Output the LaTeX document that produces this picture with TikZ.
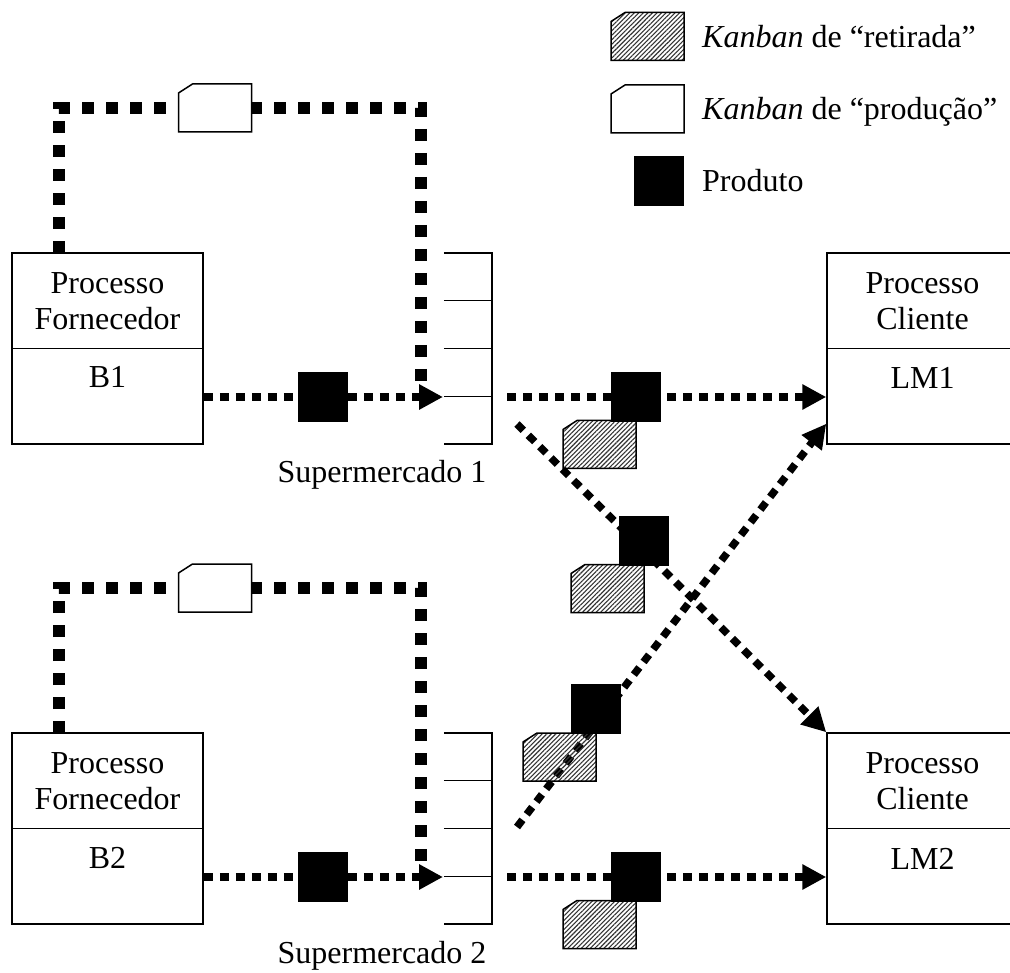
\documentclass[tikz,border=0pt]{standalone}
\usepackage{fontspec}
\setmainfont{Liberation Serif}
\usetikzlibrary{arrows.meta,patterns.meta,calc}

\tikzset{
  rule/.style={line width=1.5pt},
  frame/.style={draw, line width=1.5pt, minimum width=191pt, minimum height=191pt, inner sep=0pt},
  shelf/.style={minimum width=48pt, minimum height=191pt, inner sep=0pt},
  product/.style={draw=black, fill=black, line width=0.5pt, minimum size=49pt, inner sep=0pt},
  flow/.style={line width=7.5pt, dash pattern=on 9pt off 7pt, -{Triangle[length=24pt,width=24pt]}},
  signal/.style={line width=11.5pt, dash pattern=on 12pt off 12pt},
  prodcard/.style={draw, line width=1.5pt, fill=white},
  pullcard/.style={draw, line width=1.5pt, preaction={fill=white},
    pattern={Lines[angle=45,distance=3.2pt,line width=1.1pt]}, pattern color=black!80},
  pics/kanban/.style={code={
    \path[pic actions] (-36.5,-15) -- (-22.5,-24) -- (36.5,-24) -- (36.5,24) -- (-36.5,24) -- cycle;}},
  lbl/.style={inner sep=0pt, align=center},
}

\begin{document}
\begin{tikzpicture}[x=1pt, y=-1pt, font=\fontsize{32}{36.5}\selectfont]
\path[use as bounding box, clip] (0,0) rectangle (1010,973);

% ---------- supplier processes ----------
\node[frame] (forn1) at (107.5,348.5) {};
\node[frame] (forn2) at (107.5,828.5) {};
\draw[rule] (forn1.west) -- (forn1.east);
\draw[rule] (forn2.west) -- (forn2.east);
\node[lbl] (forn1txt) at (107.5,301) {Processo\\Fornecedor};
\node[lbl] (forn2txt) at (107.5,781) {Processo\\Fornecedor};
\node[lbl, anchor=base] (b1) at (107.5,388) {B1};
\node[lbl, anchor=base] (b2) at (107.5,868) {B2};

% ---------- customer processes ----------
\node[frame] (cli1) at (922.5,348.5) {};
\node[frame] (cli2) at (922.5,828.5) {};
\draw[rule] (cli1.west) -- (cli1.east);
\draw[rule] (cli2.west) -- (cli2.east);
\node[lbl] (cli1txt) at (922.5,301) {Processo\\Cliente};
\node[lbl] (cli2txt) at (922.5,781) {Processo\\Cliente};
\node[lbl, anchor=base] (lm1) at (922.5,389) {LM1};
\node[lbl, anchor=base] (lm2) at (922.5,869) {LM2};

% ---------- supermarkets ----------
\node[shelf] (sup1) at (468,348.5) {};
\node[shelf] (sup2) at (468,828.5) {};
\foreach \s in {sup1,sup2}{
  \draw[rule] (\s.north west) -- (\s.north east) -- (\s.south east) -- (\s.south west);
  \foreach \f in {0.25,0.5,0.75}
    \draw[rule] ($(\s.north west)!\f!(\s.south west)$) -- ($(\s.north east)!\f!(\s.south east)$);
}
\node[lbl, anchor=base] (sup1txt) at (382,483) {Supermercado 1};
\node[lbl, anchor=base] (sup2txt) at (382,963) {Supermercado 2};

% ports
\coordinate (s1in)  at (443,397);
\coordinate (s2in)  at (443,877);
\coordinate (s1out) at (507,397);
\coordinate (s2out) at (507,877);
\coordinate (s1dia) at (517,424);
\coordinate (s2dia) at (517,827);
\coordinate (f1sig) at (59,253);
\coordinate (f2sig) at (59,733);
\coordinate (k1turn) at (421,108);
\coordinate (k2turn) at (421,588);
\coordinate (k1end) at (421,381);
\coordinate (k2end) at (421,861);

% ---------- production kanban loops ----------
\draw[signal] (f1sig) |- (k1turn) -- (k1end);
\draw[signal] (f2sig) |- (k2turn) -- (k2end);

% ---------- material flows ----------
\draw[flow] (forn1.east |- s1in) -- (s1in);
\draw[flow] (forn2.east |- s2in) -- (s2in);
\draw[flow] (s1out) -- (cli1.west |- s1out);
\draw[flow] (s2out) -- (cli2.west |- s2out);
\draw[flow] (s1dia) -- (cli2.north west);
\draw[flow] (s2dia) -- ([yshift=21pt]cli1.south west);

% ---------- cards and products ----------
\pic[prodcard] at (215,108) {kanban};
\pic[prodcard] at (215,588) {kanban};

\node[product] (p1) at (323,397) {};
\node[product] (p2) at (323,877) {};

\pic[pullcard] at (599.5,444.5) {kanban};
\node[product] (p3) at (635.5,396.5) {};

\pic[pullcard] at (607.5,588.5) {kanban};
\node[product] (p4) at (643.5,540.5) {};

\pic[pullcard] at (559.5,757) {kanban};
\node[product] (p5) at (595.5,708.5) {};

\pic[pullcard] at (599.5,924.5) {kanban};
\node[product] (p6) at (635.5,877) {};

% ---------- legend ----------
\pic[pullcard] at (647.5,36.5) {kanban};
\pic[prodcard] at (647.5,109) {kanban};
\node[product] (legprod) at (658.5,180.5) {};
\node[lbl, anchor=base west] (legpull) at (702,48) {\textit{Kanban} de “retirada”};
\node[lbl, anchor=base west] (legprodk) at (702,120) {\textit{Kanban} de “produção”};
\node[lbl, anchor=base west] (legitem) at (702,192) {Produto};
\end{tikzpicture}
\end{document}
